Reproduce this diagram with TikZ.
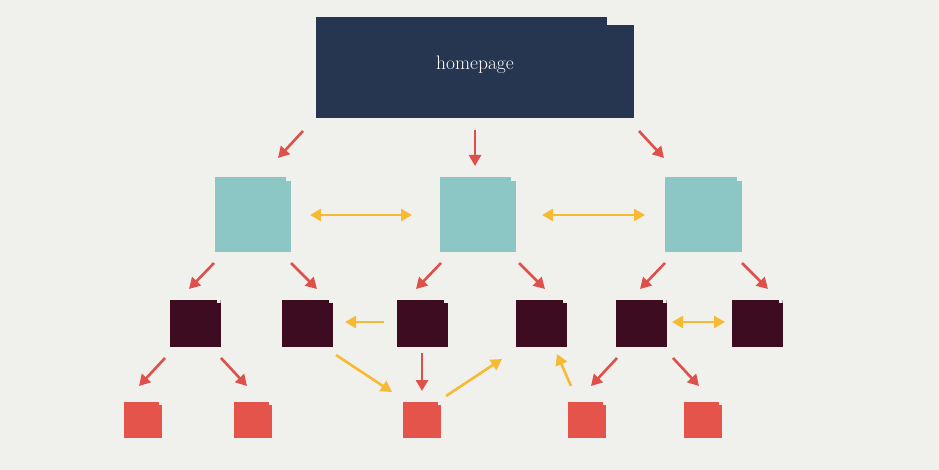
\documentclass[tikz,border=0pt]{standalone}
\usetikzlibrary{arrows.meta,calc}
\definecolor{bgc}{HTML}{F0F0EC}
\definecolor{navy}{HTML}{263650}
\definecolor{tealc}{HTML}{8DC7C5}
\definecolor{darkc}{HTML}{3E0C21}
\definecolor{redc}{HTML}{E4544A}
\definecolor{arrred}{HTML}{E0504A}
\definecolor{arryel}{HTML}{F6BA33}
\tikzset{
  notched/.style 2 args={path picture={\fill[bgc] ([xshift=-#1]path picture bounding box.north east) rectangle ([yshift=-#2]path picture bounding box.north east);}},
  pagebox/.style={fill=navy, draw=none, minimum width=318pt, minimum height=101pt, inner sep=0pt, text=white!97!gray, font=\fontsize{19.5}{22}\selectfont, notched={27pt}{8pt}},
  catbox/.style={fill=tealc, draw=none, minimum width=76pt, minimum height=75pt, inner sep=0pt, notched={5pt}{4pt}},
  subbox/.style={fill=darkc, draw=none, minimum width=51pt, minimum height=47pt, inner sep=0pt, notched={4pt}{3pt}},
  leafbox/.style={fill=redc, draw=none, minimum width=38pt, minimum height=36pt, inner sep=0pt, notched={3pt}{3pt}},
  redarr/.style={draw=arrred, line width=2.6pt, -{Triangle[length=11pt,width=12pt]}},
  yelarr/.style={draw=arryel, line width=2.6pt, -{Triangle[length=11pt,width=12pt]}},
  yelboth/.style={draw=arryel, line width=2.6pt, {Triangle[length=11pt,width=12pt]}-{Triangle[length=11pt,width=12pt]}}
}
\begin{document}
\begin{tikzpicture}[x=1pt,y=-1pt]
\fill[bgc] (0,0) rectangle (939,470);
\useasboundingbox (0,0) rectangle (939,470);
% nodes
\node[pagebox] (hp) at (475,67.5) {\raisebox{9pt}{homepage}};
\node[catbox] (t1) at (253,214.5) {};
\node[catbox] (t2) at (478,214.5) {};
\node[catbox, minimum width=77pt] (t3) at (703.5,214.5) {};
\node[subbox] (d1) at (195,323.5) {};
\node[subbox] (d2) at (307.5,323.5) {};
\node[subbox] (d3) at (422.5,323.5) {};
\node[subbox] (d4) at (541.5,323.5) {};
\node[subbox] (d5) at (641,323.5) {};
\node[subbox] (d6) at (757,323.5) {};
\node[leafbox] (r1) at (143,420) {};
\node[leafbox] (r2) at (253,420) {};
\node[leafbox] (r3) at (422,420) {};
\node[leafbox] (r4) at (587,420) {};
\node[leafbox] (r5) at (703,420) {};
% red arrows
\draw[redarr] ([shift={(-172,63.5)}]hp.center) -- ([shift={(25,-56.5)}]t1.center);
\draw[redarr] ([shift={(0,62.5)}]hp.center) -- ([shift={(-3,-48.5)}]t2.center);
\draw[redarr] ([shift={(164,63.5)}]hp.center) -- ([shift={(-39.5,-56.5)}]t3.center);
\draw[redarr] ([shift={(-39,48.5)}]t1.center) -- ([shift={(-6,-34.5)}]d1.center);
\draw[redarr] ([shift={(38,48.5)}]t1.center) -- ([shift={(9.5,-34.5)}]d2.center);
\draw[redarr] ([shift={(-37,48.5)}]t2.center) -- ([shift={(-6.5,-34.5)}]d3.center);
\draw[redarr] ([shift={(41,48.5)}]t2.center) -- ([shift={(3.5,-34.5)}]d4.center);
\draw[redarr] ([shift={(-38.5,48.5)}]t3.center) -- ([shift={(-1,-34.5)}]d5.center);
\draw[redarr] ([shift={(38.5,48.5)}]t3.center) -- ([shift={(11,-34.5)}]d6.center);
\draw[redarr] ([shift={(-30,34.5)}]d1.center) -- ([shift={(-4,-34)}]r1.center);
\draw[redarr] ([shift={(26,34.5)}]d1.center) -- ([shift={(-6,-34)}]r2.center);
\draw[redarr] ([shift={(-0.5,29.5)}]d3.center) -- ([shift={(0,-29)}]r3.center);
\draw[redarr] ([shift={(-24,34.5)}]d5.center) -- ([shift={(4,-34)}]r4.center);
\draw[redarr] ([shift={(32,34.5)}]d5.center) -- ([shift={(-4,-34)}]r5.center);
% yellow arrows
\draw[yelboth] ([shift={(57,0.5)}]t1.center) -- ([shift={(-66,0.5)}]t2.center);
\draw[yelboth] ([shift={(64,0.5)}]t2.center) -- ([shift={(-58.5,0.5)}]t3.center);
\draw[yelarr] ([shift={(-38.5,-1.5)}]d3.center) -- ([shift={(37.5,-1.5)}]d2.center);
\draw[yelarr] ([shift={(28.5,31.5)}]d2.center) -- ([shift={(-30,-28)}]r3.center);
\draw[yelarr] ([shift={(24,-24)}]r3.center) -- ([shift={(-39.5,35.5)}]d4.center);
\draw[yelarr] ([shift={(-16,-34)}]r4.center) -- ([shift={(15.5,30.5)}]d4.center);
\draw[yelboth] ([shift={(31,-1.5)}]d5.center) -- ([shift={(-32,-1.5)}]d6.center);
\end{tikzpicture}
\end{document}
